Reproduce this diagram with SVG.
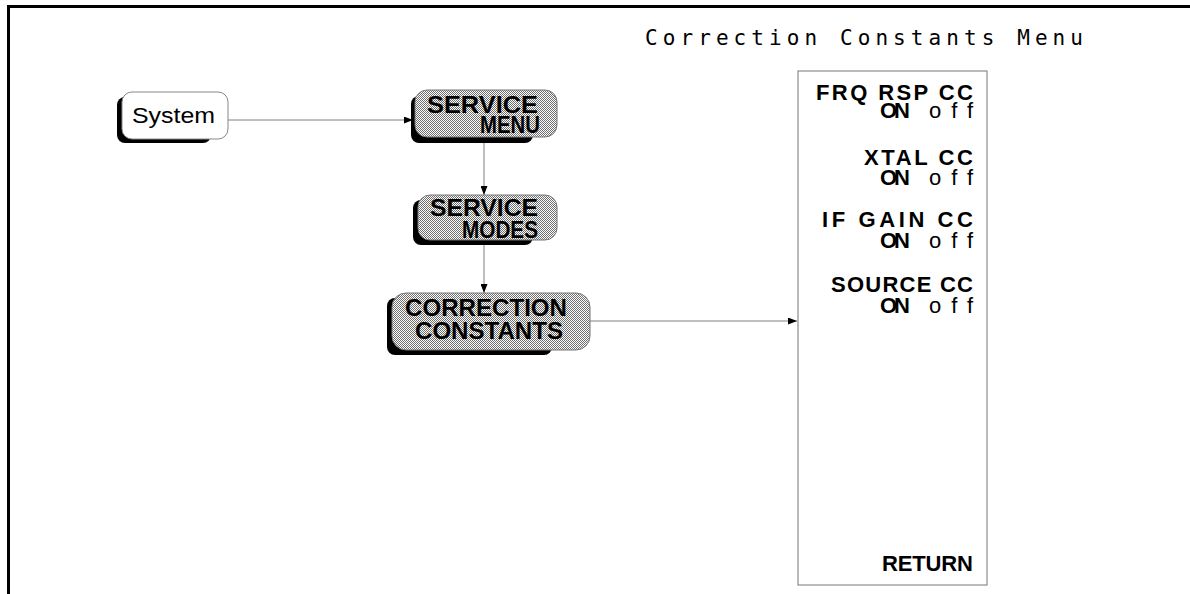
<svg xmlns="http://www.w3.org/2000/svg" width="1190" height="594" viewBox="0 0 1190 594">
<defs>
<pattern id="dither" width="2" height="2" patternUnits="userSpaceOnUse">
<rect width="2" height="2" fill="#ffffff"/>
<rect width="1" height="1" fill="#6e6e6e"/>
<rect x="1" y="1" width="1" height="1" fill="#6e6e6e"/>
</pattern>
<marker id="arr" markerWidth="9" markerHeight="7" refX="9" refY="3.5" orient="auto" markerUnits="userSpaceOnUse">
<path d="M0,0 L9,3.5 L0,7 z" fill="#000"/>
</marker>
<style>
.shadow{fill:#000}
.key{fill:url(#dither);stroke:#777;stroke-width:1}
.hard{fill:#fff;stroke:#888;stroke-width:1}
.kt{font-family:"Liberation Sans",Arial,sans-serif;font-weight:bold;font-size:23px;fill:#000}
.mt{font-family:"Liberation Sans",Arial,sans-serif;font-size:22px;fill:#000}
.b{font-weight:bold}
.n{font-weight:normal}
.title{font-family:"DejaVu Sans Mono","Liberation Mono",monospace;font-size:21px;fill:#000}
.conn{stroke:#808080;stroke-width:1;fill:none;marker-end:url(#arr)}
</style>
</defs>
<rect width="1190" height="594" fill="#fff"/>
<g id="frame">
<line x1="7" y1="6.5" x2="1190" y2="6.5" stroke="#000" stroke-width="3"/>
<line x1="8.5" y1="5" x2="8.5" y2="594" stroke="#000" stroke-width="3"/>
</g>
<g id="connectors">
<line class="conn" x1="228" y1="120" x2="413" y2="120"/>
<line class="conn" x1="484" y1="143" x2="484" y2="195"/>
<line class="conn" x1="484" y1="245" x2="484" y2="293"/>
<line class="conn" x1="590" y1="321" x2="797" y2="321"/>
</g>
<g id="system">
<rect class="shadow" x="117" y="97" width="94" height="46" rx="8"/>
<rect class="hard" x="122" y="92" width="106" height="47" rx="10"/>
<text class="mt" x="132" y="123" textLength="83" lengthAdjust="spacingAndGlyphs">System</text>
</g>
<g id="service-menu">
<rect class="shadow" x="411" y="96" width="122" height="47" rx="8"/>
<rect class="key" x="415" y="90" width="142" height="47" rx="12"/>
<text class="kt"><tspan x="427" y="113" textLength="111" lengthAdjust="spacingAndGlyphs">SERVICE</tspan><tspan x="480" y="133" textLength="60" lengthAdjust="spacingAndGlyphs">MENU</tspan></text>
</g>
<g id="service-modes">
<rect class="shadow" x="413" y="200" width="120" height="45" rx="8"/>
<rect class="key" x="418" y="195" width="139" height="45" rx="12"/>
<text class="kt"><tspan x="430" y="216" textLength="108" lengthAdjust="spacingAndGlyphs">SERVICE</tspan><tspan x="462" y="238" textLength="76" lengthAdjust="spacingAndGlyphs">MODES</tspan></text>
</g>
<g id="correction-constants">
<rect class="shadow" x="387" y="298" width="165" height="57" rx="8"/>
<rect class="key" x="392" y="293" width="198" height="57" rx="14"/>
<text class="kt"><tspan x="405" y="316" textLength="162" lengthAdjust="spacingAndGlyphs">CORRECTION</tspan><tspan x="415" y="339" textLength="148" lengthAdjust="spacingAndGlyphs">CONSTANTS</tspan></text>
</g>
<g id="correction-constants-menu">
<text class="title" x="645" y="45" textLength="438" lengthAdjust="spacing">Correction Constants Menu</text>
<rect x="798" y="71" width="189" height="514" fill="#fff" stroke="#777" stroke-width="1"/>
<text class="mt"><tspan class="b" x="816" y="100" textLength="157" lengthAdjust="spacing">FRQ RSP CC</tspan><tspan class="b" x="880" y="118" textLength="30" lengthAdjust="spacing">ON</tspan><tspan class="n" x="929" y="118" textLength="44" lengthAdjust="spacing">off</tspan></text>
<text class="mt"><tspan class="b" x="864" y="165" textLength="109" lengthAdjust="spacing">XTAL CC</tspan><tspan class="b" x="880" y="185" textLength="30" lengthAdjust="spacing">ON</tspan><tspan class="n" x="929" y="185" textLength="44" lengthAdjust="spacing">off</tspan></text>
<text class="mt"><tspan class="b" x="822" y="227" textLength="151" lengthAdjust="spacing">IF GAIN CC</tspan><tspan class="b" x="880" y="248" textLength="30" lengthAdjust="spacing">ON</tspan><tspan class="n" x="929" y="248" textLength="44" lengthAdjust="spacing">off</tspan></text>
<text class="mt"><tspan class="b" x="831" y="292" textLength="142" lengthAdjust="spacing">SOURCE CC</tspan><tspan class="b" x="880" y="313" textLength="30" lengthAdjust="spacing">ON</tspan><tspan class="n" x="929" y="313" textLength="44" lengthAdjust="spacing">off</tspan></text>
<text class="mt b" x="882" y="571" textLength="91" lengthAdjust="spacing">RETURN</text>
</g>
</svg>
